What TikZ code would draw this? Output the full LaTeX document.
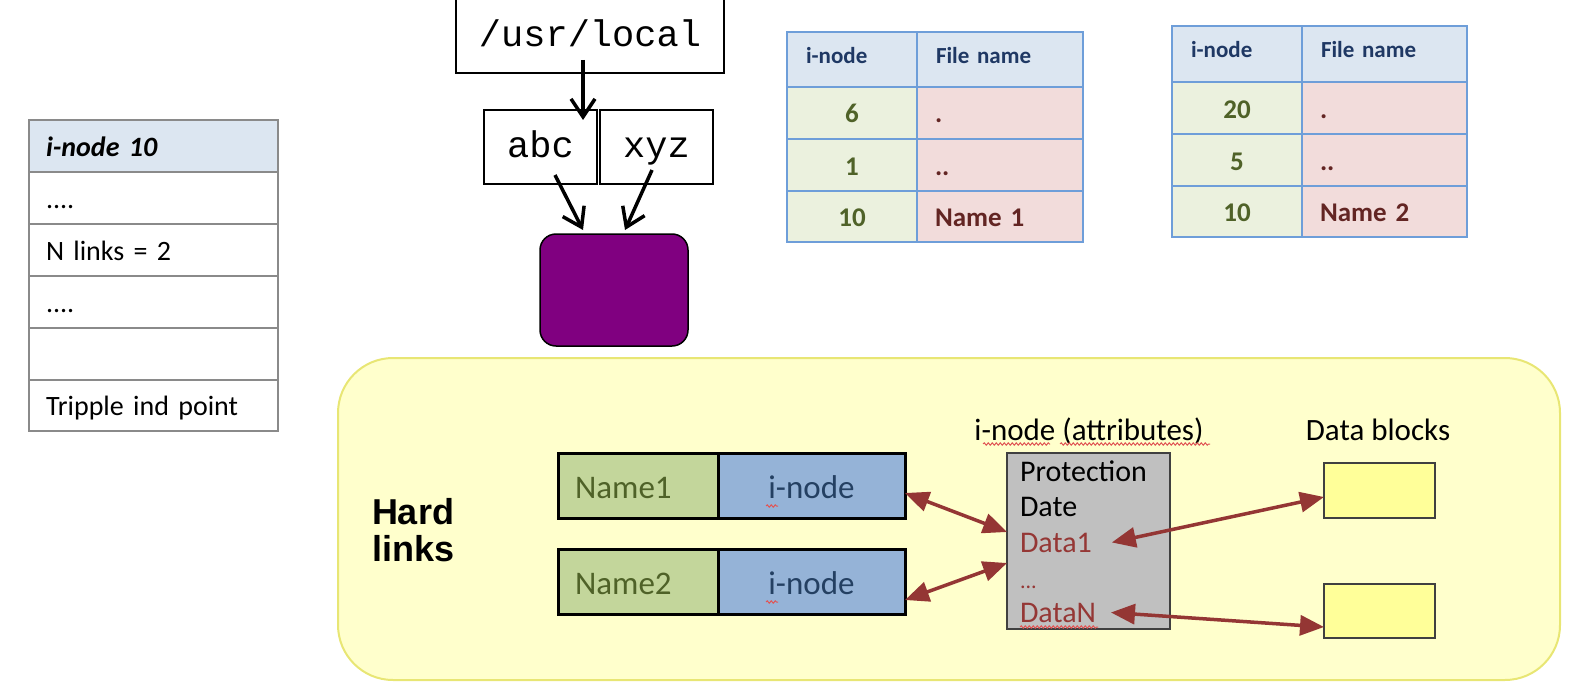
\documentclass[tikz,border=0pt]{standalone}
\usepackage{fontspec}
\setmainfont{Carlito}
\newfontfamily\monofont{Liberation Mono}
\newfontfamily\hardfont{Liberation Sans}
\usetikzlibrary{arrows.meta,decorations.pathmorphing}
\definecolor{hdrblue}{HTML}{DCE6F1}
\definecolor{ltgray}{HTML}{8A8A8A}
\definecolor{tblue}{HTML}{6E9ED9}
\definecolor{hdrtext}{HTML}{1F3864}
\definecolor{numtext}{HTML}{4F6228}
\definecolor{nametext}{HTML}{632523}
\definecolor{greencell}{HTML}{EBF1DE}
\definecolor{pinkcell}{HTML}{F2DCDB}
\definecolor{purpleA}{HTML}{800080}
\definecolor{yfill}{HTML}{FFFFCC}
\definecolor{ybord}{HTML}{E8E674}
\definecolor{ngreen}{HTML}{C3D69B}
\definecolor{nblue}{HTML}{95B3D7}
\definecolor{ntxtb}{HTML}{244062}
\definecolor{gfill}{HTML}{C0C0C0}
\definecolor{gborder}{HTML}{404040}
\definecolor{dred}{HTML}{953735}
\definecolor{arrred}{HTML}{943634}
\definecolor{blockfill}{HTML}{FFFF99}
\definecolor{squigred}{HTML}{E05555}
\begin{document}
\begin{tikzpicture}[x=1pt,y=-1pt,
  every node/.style={inner sep=0pt, outer sep=0pt},
  ltcell/.style={draw=ltgray, line width=2.5pt, anchor=north west, minimum width=249, minimum height=52,
    text width=215, inner xsep=17, align=left, text height=22, text depth=2, font=\fontsize{28}{32}\selectfont},
  tcell/.style={draw=tblue, line width=2.5pt, anchor=north west},
  hdrcell/.style={tcell, fill=hdrblue, text=hdrtext, font=\fontsize{23}{26}\selectfont\bfseries,
    align=left, inner xsep=19, text height=14, text depth=6},
  numcell/.style={tcell, fill=greencell, text=numtext, font=\fontsize{27}{30}\selectfont\bfseries,
    align=center, text height=21, text depth=1},
  namecell/.style={tcell, fill=pinkcell, text=nametext, font=\fontsize{27}{30}\selectfont\bfseries,
    align=left, inner xsep=18, text height=21, text depth=1},
  mbox/.style={draw=black, line width=1.5pt, fill=white, font=\monofont\fontsize{37}{40}\selectfont},
  blk/.style={line width=3.5pt, -{Straight Barb[length=18pt,width=24pt,line width=3.5pt]}},
  nm/.style={draw=black, line width=3pt, anchor=north west, minimum height=65,
    font=\fontsize{33}{36}\selectfont, text height=25, text depth=0},
  itxt/.style={anchor=base west, font=\fontsize{30}{34}\selectfont},
  lbl/.style={anchor=base, font=\fontsize{31}{34}\selectfont},
  dblock/.style={draw=gborder, line width=2.5pt, fill=blockfill, anchor=north west, minimum width=111},
  rarr/.style={draw=arrred, line width=3.5pt, {Triangle[length=24pt,width=20pt]}-{Triangle[length=24pt,width=20pt]}},
  squig/.style={draw=squigred, line width=1pt, decorate, decoration={snake, amplitude=1.2pt, segment length=4pt}}
]
\useasboundingbox (0,0) rectangle (1570,690);

% left i-node table
\node[ltcell, fill=hdrblue, font={\fontsize{28}{32}\selectfont\bfseries\itshape}] (lt0) at (29,120) {i-node 10};
\node[ltcell] (lt1) at (29,172) {....};
\node[ltcell] (lt2) at (29,224) {N links = 2};
\node[ltcell] (lt3) at (29,276) {....};
\node[ltcell] (lt4) at (29,328) {};
\node[ltcell, minimum height=51] (lt5) at (29,380) {Tripple ind point};

% middle directory table
\node[hdrcell, minimum width=130, minimum height=55, text width=92] (m00) at (787,32) {i-node};
\node[hdrcell, minimum width=166, minimum height=55, text width=128] (m01) at (917,32) {File name};
\node[numcell, minimum width=130, minimum height=52, text width=130] (m10) at (787,87) {6};
\node[namecell, minimum width=166, minimum height=52, text width=130] (m11) at (917,87) {.};
\node[numcell, minimum width=130, minimum height=52, text width=130] (m20) at (787,139) {1};
\node[namecell, minimum width=166, minimum height=52, text width=130] (m21) at (917,139) {..};
\node[numcell, minimum width=130, minimum height=51, text width=130] (m30) at (787,191) {10};
\node[namecell, minimum width=166, minimum height=51, text width=130] (m31) at (917,191) {Name 1};

% right directory table
\node[hdrcell, minimum width=130, minimum height=56, text width=92] (r00) at (1172,26) {i-node};
\node[hdrcell, minimum width=165, minimum height=56, text width=127] (r01) at (1302,26) {File name};
\node[numcell, minimum width=130, minimum height=52, text width=130] (r10) at (1172,82) {20};
\node[namecell, minimum width=165, minimum height=52, text width=129] (r11) at (1302,82) {.};
\node[numcell, minimum width=130, minimum height=52, text width=130] (r20) at (1172,134) {5};
\node[namecell, minimum width=165, minimum height=52, text width=129] (r21) at (1302,134) {..};
\node[numcell, minimum width=130, minimum height=51, text width=130] (r30) at (1172,186) {10};
\node[namecell, minimum width=165, minimum height=51, text width=129] (r31) at (1302,186) {Name 2};

% path lookup
\node[mbox, minimum width=268, minimum height=82, text height=32, text depth=2] (usr) at (590,32) {/usr/local};
\node[mbox, minimum width=113, minimum height=74, text height=24, text depth=4] (abc) at (540.5,147) {abc};
\node[mbox, minimum width=113, minimum height=74, text height=24, text depth=4] (xyz) at (656.5,147) {xyz};
\node[draw=black, line width=1.5pt, fill=purpleA, rounded corners=16pt, minimum width=148, minimum height=112] (pur) at (614,290) {};
\coordinate (u1) at (583,60);
\coordinate (a1) at (583,120);
\coordinate (s2) at (555,175);
\coordinate (p1) at (583,230);
\coordinate (s3) at (652,170);
\coordinate (p2) at (625,230);
\draw[blk] (u1) -- (a1);
\draw[blk] (s2) -- (p1);
\draw[blk] (s3) -- (p2);

% hard links panel
\node[draw=ybord, line width=2pt, fill=yfill, rounded corners=55pt, anchor=north west,
  minimum width=1222, minimum height=322] (panel) at (338,358) {};
\node[anchor=west, align=left, font={\hardfont\fontsize{36}{37}\selectfont\bfseries}] (hard) at (372,530) {Hard\\links};

\node[nm, fill=ngreen, text=numtext, minimum width=160, text width=126, inner xsep=17, align=left] (n1a) at (558,453) {Name1};
\node[nm, fill=nblue, text=ntxtb, minimum width=187] (n1b) at (718,453) {i-node};
\node[nm, fill=ngreen, text=numtext, minimum width=160, text width=126, inner xsep=17, align=left] (n2a) at (558,549) {Name2};
\node[nm, fill=nblue, text=ntxtb, minimum width=187] (n2b) at (718,549) {i-node};

\node[lbl] (lab1) at (1089,440) {i-node (attributes)};
\node[lbl] (lab2) at (1378,440) {Data blocks};

\node[draw=gborder, fill=gfill, line width=2.5pt, anchor=north west, minimum width=163, minimum height=176] (ib) at (1007,453) {};
\node[itxt] (tP) at (1020,481) {Protection};
\node[itxt] (tDa) at (1020,516) {Date};
\node[itxt, text=dred] (tD1) at (1020,552) {Data1};
\node[itxt, text=dred, font=\fontsize{22}{26}\selectfont] (tDots) at (1020,588) {...};
\node[itxt, text=dred] (tDN) at (1020,622) {DataN};

\node[dblock, minimum height=55] (b1) at (1324,463) {};
\node[dblock, minimum height=54] (b2) at (1324,584) {};

\draw[rarr] ([yshift=-7.5pt]n1b.east) -- ([yshift=9pt]ib.west);
\draw[rarr] ([yshift=-18.5pt]n2b.east) -- ([yshift=-22pt]ib.west);
\draw[rarr] ([xshift=20pt]tD1.east) -- ([yshift=-6.5pt]b1.west);
\draw[rarr] ([xshift=15pt]tDN.east) -- ([yshift=-16pt]b2.west);

% spell-check squiggles
\draw[squig] (766,506) -- (778,506);
\draw[squig] (766,602) -- (778,602);
\draw[squig] (983,444) -- (1050,444);
\draw[squig] (1060,444) -- (1210,444);
\draw[squig] (1020,627) -- (1098,627);
\end{tikzpicture}
\end{document}
